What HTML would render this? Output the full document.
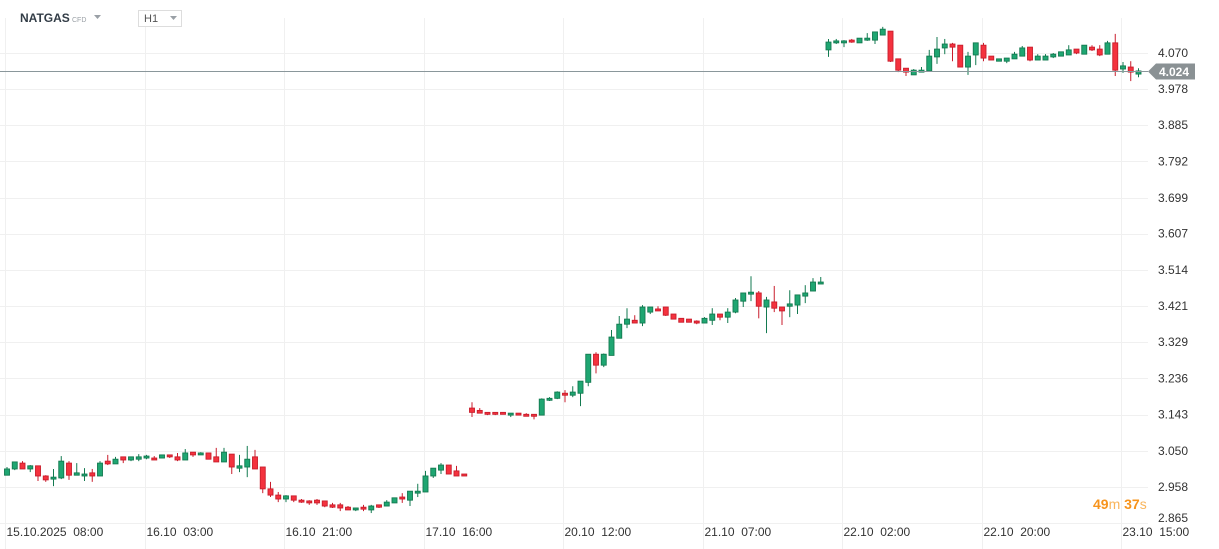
<!DOCTYPE html>
<html><head><meta charset="utf-8"><style>
body{margin:0;background:#fff;width:1219px;height:549px;overflow:hidden;font-family:"Liberation Sans",sans-serif}
svg{position:absolute;left:0;top:0}
</style></head><body>
<svg id="chart" width="1219" height="549">
<g id="grid"></g>
<g id="candles"></g>
<g id="axis"></g>
<g id="xaxis"></g>
<g>
<text x="20" y="22" font-size="12" font-weight="bold" fill="#333d47">NATGAS</text>
<text x="72" y="22" font-size="7" fill="#9aa0a6">CFD</text>
<path d="M94,15 L101,15 L97.5,19 Z" fill="#9aa0a6"/>
<rect x="138.5" y="10.5" width="43" height="16" fill="#fff" stroke="#ddd"/>
<text x="144" y="22" font-size="11" fill="#555">H1</text>
<path d="M170,16 L177,16 L173.5,20 Z" fill="#9aa0a6"/>
</g>
<g>
<text x="1093" y="509" font-size="14" fill="#f7941d"><tspan font-weight="bold">49</tspan><tspan fill="#f9b55c">m </tspan><tspan font-weight="bold">37</tspan><tspan fill="#f9b55c">s</tspan></text>
</g>
</svg>
<script>
const ticks=[4.070,3.978,3.885,3.792,3.699,3.607,3.514,3.421,3.329,3.236,3.143,3.050,2.958,2.865];
const timeLabels=["15.10.2025  08:00","16.10  03:00","16.10  21:00","17.10  16:00","20.10  12:00","21.10  07:00","22.10  02:00","22.10  20:00","23.10  15:00"];
const timeLabelIndex=[0,18,36,54,72,90,108,126,144];
const lastPrice=4.024;
const open=[2.988,3.004,3.019,3.004,3.012,2.986,2.978,2.981,3.019,2.988,2.986,2.994,2.986,3.024,3.017,3.035,3.027,3.029,3.032,3.032,3.032,3.040,3.035,3.027,3.047,3.040,3.045,3.035,3.022,3.042,3.006,3.009,3.035,3.009,2.953,2.937,2.927,2.935,2.924,2.922,2.924,2.922,2.912,2.912,2.906,2.899,2.906,2.899,2.912,2.909,2.917,2.932,2.924,2.942,2.945,2.986,3.001,3.014,2.999,2.991,
3.160,3.154,3.149,3.149,3.149,3.142,3.147,3.144,3.144,3.142,3.180,3.185,3.198,3.193,3.198,3.226,3.298,3.270,3.295,3.339,3.375,3.385,3.378,3.406,3.414,3.419,3.401,3.390,3.388,3.383,3.378,3.385,3.401,3.393,3.406,3.434,3.452,3.455,3.419,3.432,3.419,3.421,3.424,3.447,3.460,3.478,
4.078,4.096,4.096,4.103,4.096,4.103,4.103,4.116,4.126,4.055,4.031,4.014,4.021,4.024,4.060,4.083,4.093,4.090,4.034,4.065,4.090,4.062,4.049,4.049,4.055,4.062,4.085,4.052,4.052,4.060,4.062,4.065,4.080,4.067,4.085,4.080,4.067,4.096,4.029,4.034,4.016];
const high=[3.009,3.022,3.024,3.014,3.012,2.988,3.004,3.037,3.024,3.019,3.006,3.004,3.024,3.040,3.035,3.035,3.035,3.042,3.040,3.037,3.040,3.040,3.045,3.055,3.047,3.047,3.045,3.058,3.058,3.042,3.040,3.063,3.053,3.009,2.971,2.945,2.937,2.935,2.927,2.924,2.927,2.922,2.917,2.917,2.909,2.904,2.912,2.912,2.912,2.924,2.930,2.942,2.947,2.966,2.999,3.006,3.019,3.014,3.012,2.991,
3.175,3.160,3.149,3.149,3.149,3.147,3.147,3.147,3.144,3.185,3.188,3.203,3.206,3.216,3.229,3.298,3.303,3.300,3.360,3.396,3.416,3.398,3.424,3.419,3.421,3.419,3.401,3.390,3.388,3.385,3.393,3.416,3.401,3.416,3.442,3.455,3.498,3.460,3.445,3.473,3.419,3.462,3.450,3.475,3.493,3.496,
4.106,4.106,4.103,4.106,4.108,4.121,4.124,4.137,4.126,4.055,4.031,4.029,4.034,4.078,4.111,4.106,4.096,4.090,4.073,4.096,4.096,4.062,4.055,4.057,4.073,4.088,4.085,4.067,4.067,4.070,4.073,4.090,4.080,4.090,4.090,4.090,4.101,4.119,4.047,4.049,4.031];
const low=[2.988,3.001,3.004,2.996,2.973,2.971,2.960,2.978,2.976,2.988,2.973,2.971,2.986,3.014,3.017,3.019,3.024,3.024,3.029,3.027,3.032,3.032,3.024,3.027,3.035,3.040,3.029,3.022,3.022,2.991,2.996,2.983,3.004,2.942,2.932,2.919,2.919,2.919,2.917,2.912,2.912,2.906,2.904,2.896,2.899,2.896,2.896,2.891,2.904,2.909,2.917,2.917,2.909,2.932,2.945,2.981,2.991,2.991,2.986,2.986,
3.137,3.147,3.142,3.142,3.144,3.137,3.142,3.139,3.131,3.142,3.178,3.183,3.175,3.188,3.165,3.216,3.249,3.265,3.295,3.339,3.365,3.378,3.370,3.401,3.409,3.396,3.388,3.380,3.380,3.375,3.378,3.373,3.385,3.378,3.403,3.419,3.434,3.390,3.352,3.406,3.373,3.393,3.401,3.429,3.460,3.478,
4.060,4.093,4.085,4.096,4.096,4.101,4.093,4.116,4.047,4.021,4.011,4.014,4.021,4.024,4.042,4.067,4.049,4.034,4.014,4.039,4.049,4.052,4.049,4.044,4.055,4.062,4.049,4.052,4.052,4.057,4.062,4.065,4.067,4.067,4.075,4.062,4.067,4.011,4.019,3.998,4.008];
const close=[3.004,3.022,3.004,3.012,2.986,2.976,2.983,3.024,2.988,2.994,2.991,2.986,3.019,3.017,3.029,3.027,3.035,3.035,3.037,3.027,3.040,3.035,3.027,3.045,3.040,3.045,3.029,3.022,3.047,3.009,3.012,3.029,3.004,2.953,2.937,2.927,2.935,2.924,2.919,2.917,2.917,2.909,2.906,2.904,2.899,2.904,2.901,2.909,2.906,2.919,2.930,2.927,2.947,2.947,2.986,3.006,3.014,2.991,2.986,2.986,
3.149,3.147,3.144,3.144,3.144,3.147,3.142,3.139,3.139,3.183,3.185,3.201,3.193,3.201,3.229,3.298,3.270,3.298,3.342,3.375,3.388,3.378,3.419,3.419,3.409,3.398,3.388,3.380,3.380,3.378,3.390,3.401,3.393,3.406,3.437,3.455,3.457,3.421,3.437,3.416,3.409,3.427,3.450,3.455,3.483,3.483,
4.098,4.101,4.101,4.098,4.108,4.108,4.124,4.131,4.049,4.026,4.021,4.026,4.026,4.062,4.080,4.093,4.085,4.034,4.062,4.096,4.057,4.052,4.055,4.057,4.067,4.083,4.052,4.062,4.062,4.067,4.073,4.078,4.070,4.090,4.078,4.065,4.096,4.026,4.037,4.021,4.024];

const NS="http://www.w3.org/2000/svg";
const yScale=p=>53+(4.070-p)*390.2;
const xScale=i=>7+i*7.75;
const plotRight=1148;
function mk(tag,attrs,parent){const e=document.createElementNS(NS,tag);for(const k in attrs)e.setAttribute(k,attrs[k]);parent.appendChild(e);return e;}
const grid=document.getElementById('grid'),axis=document.getElementById('axis'),xaxis=document.getElementById('xaxis'),cg=document.getElementById('candles');
ticks.forEach(t=>{
  const y=Math.round(yScale(t))+0.5;
  const l=mk('line',{x1:0,x2:plotRight,y1:y,y2:y,stroke:'#f0f0f0','stroke-width':1},grid);
  
  
  const tx=mk('text',{x:1158,y:Math.min(yScale(t)+4,522),'font-size':12,fill:'#333'},axis);
  tx.textContent=t.toFixed(3);
  
  
});
timeLabelIndex.forEach((idx,k)=>{
  const x=Math.round(xScale(idx)-2)+0.5;
  const l=mk('line',{x1:x,x2:x,y1:18,y2:549,stroke:'#f0f0f0','stroke-width':1},grid);
  
  
  const tx=mk('text',{x:x+1,y:536,'font-size':12,fill:'#333'},xaxis);
  tx.style.whiteSpace='pre';
  tx.textContent=timeLabels[k];
  
  
});
for(let i=0;i<open.length;i++){
  const up=close[i]>=open[i];
  const fill=up?'#1fa672':'#f4323e',stroke=up?'#137a50':'#c91d2c';
  const x=xScale(i);
  const w=mk('line',{x1:x,x2:x,y1:yScale(high[i]),y2:yScale(low[i]),stroke:stroke,'stroke-width':1},cg);
  
  
  const top=yScale(Math.max(open[i],close[i])),bot=yScale(Math.min(open[i],close[i]));
  const b=mk('rect',{x:x-2.5,y:top,width:5,height:Math.max(bot-top,1.5),fill:fill,stroke:stroke,'stroke-width':0.9},cg);
  
  
}
const ly=Math.round(yScale(lastPrice))+0.5;
const pl=mk('line',{x1:0,x2:plotRight,y1:ly,y2:ly,stroke:'#8a979b','stroke-width':1},axis);


const tag=mk('path',{d:`M1148,${ly} L1156,${ly-8} L1195,${ly-8} L1195,${ly+8} L1156,${ly+8} Z`,fill:'#8a9194'},axis);


const tt=mk('text',{x:1159,y:ly+4.5,'font-size':12,'font-weight':'bold',fill:'#fff'},axis);
tt.textContent=lastPrice.toFixed(3);


</script>
</body></html>
